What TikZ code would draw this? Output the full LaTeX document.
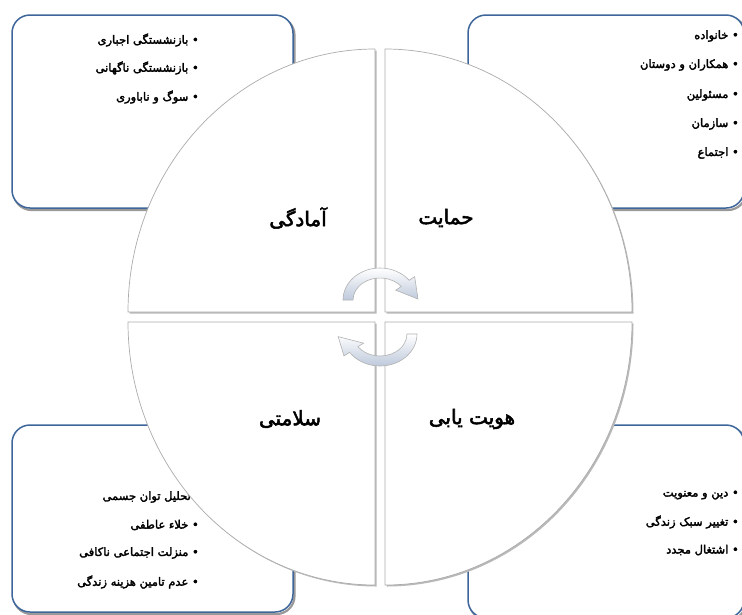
\documentclass[tikz,border=0pt]{standalone}
\usepackage{fontspec}
\newfontfamily\arabicbold[Script=Arabic,FakeBold=2.6]{DejaVu Sans}
\TeXXeTstate=1
\definecolor{boxblue}{RGB}{62,102,155}
\definecolor{arrowblue}{RGB}{190,201,219}
\begin{document}
\begin{tikzpicture}[x=1pt,y=-1pt]
\useasboundingbox (0,0) rectangle (742,614);
\tikzset{
 infobox/.style={draw=boxblue, line width=1.5pt, rounded corners=18pt, fill=white},
 boxshadow/.style={draw=black!40, line width=2.2pt, rounded corners=18pt},
 quad/.style={fill=white, draw=gray!65, line width=0.7pt},
 quadshadow/.style={fill=gray!55},
 item/.style={anchor=east, inner sep=0pt, font={\arabicbold\fontsize{11.5}{13}\selectfont}},
 qtitle/.style={inner sep=0pt, font={\arabicbold\fontsize{20}{23}\selectfont}},
 cyc/.style={top color=white, bottom color=arrowblue, draw=gray!60, line width=0.6pt}
}
% boxes
\draw[boxshadow] (13.5,17) rectangle (294.5,210);
\draw[infobox] (12,15) rectangle (293,208);
\draw[boxshadow] (469.5,17) rectangle (746,210);
\draw[infobox] (468,15) rectangle (744,208);
\draw[boxshadow] (13.5,427) rectangle (294.5,614);
\draw[infobox] (12,425) rectangle (293,612);
\draw[boxshadow] (469.5,427) rectangle (746,620);
\draw[infobox] (468,425) rectangle (744,618);

% box texts
\node[item] (tl1) at (199,40) {\beginR • بازنشستگی اجباری\endR};
\node[item] (tl2) at (199,68) {\beginR • بازنشستگی ناگهانی\endR};
\node[item] (tl3) at (199,97) {\beginR • سوگ و ناباوری\endR};

\node[item] (tr1) at (739,36) {\beginR • خانواده\endR};
\node[item] (tr2) at (739,65) {\beginR • همکاران و دوستان\endR};
\node[item] (tr3) at (739,95) {\beginR • مسئولین\endR};
\node[item] (tr4) at (739,124) {\beginR • سازمان\endR};
\node[item] (tr5) at (739,153) {\beginR • اجتماع\endR};

\node[item] (bl1) at (191,497) {\beginR تحلیل توان جسمی\endR};
\node[item] (bl2) at (199,525) {\beginR • خلاء عاطفی\endR};
\node[item] (bl3) at (199,553) {\beginR • منزلت اجتماعی ناکافی\endR};
\node[item] (bl4) at (199,582) {\beginR • عدم تامین هزینه زندگی\endR};

\node[item] (br1) at (739,495) {\beginR • دین و معنویت\endR};
\node[item] (br2) at (739,522) {\beginR • تغییر سبک زندگی\endR};
\node[item] (br3) at (739,550) {\beginR • اشتغال مجدد\endR};

% quadrant shadows
\path[quadshadow, shift={(1.5,1.5)}] (375,312) -- (128,312) arc[start angle=180,end angle=270,x radius=247,y radius=263] -- cycle;
\path[quadshadow, shift={(1.5,1.5)}] (385,312) -- (385,49) arc[start angle=270,end angle=360,x radius=247,y radius=263] -- cycle;
\path[quadshadow, shift={(1.5,1.5)}] (385,322) -- (632,322) arc[start angle=0,end angle=90,x radius=247,y radius=263] -- cycle;
\path[quadshadow, shift={(1.5,1.5)}] (375,322) -- (375,585) arc[start angle=90,end angle=180,x radius=247,y radius=263] -- cycle;
% quadrants
\path[quad] (375,312) -- (128,312) arc[start angle=180,end angle=270,x radius=247,y radius=263] -- cycle;
\path[quad] (385,312) -- (385,49) arc[start angle=270,end angle=360,x radius=247,y radius=263] -- cycle;
\path[quad] (385,322) -- (632,322) arc[start angle=0,end angle=90,x radius=247,y radius=263] -- cycle;
\path[quad] (375,322) -- (375,585) arc[start angle=90,end angle=180,x radius=247,y radius=263] -- cycle;

% quadrant titles
\node[qtitle] (qa) at (298,218) {\beginR آمادگی\endR};
\node[qtitle] (qb) at (446,218) {\beginR حمایت\endR};
\node[qtitle] (qc) at (290,419) {\beginR سلامتی\endR};
\node[qtitle] (qd) at (472,419) {\beginR هویت یابی\endR};

% cycle arrows
\begin{scope}[shift={(380,300)}]
\path[cyc] (180:37 and 32) arc[start angle=180,end angle=322,x radius=37,y radius=32]
  -- (322:44 and 38) -- (358:38 and 28) -- (322:20 and 16) -- (322:27 and 22)
  arc[start angle=322,end angle=180,x radius=27,y radius=22] -- cycle;
\end{scope}
\begin{scope}[shift={(380,334)}]
\path[cyc] (0:37 and 32) arc[start angle=0,end angle=145,x radius=37,y radius=32]
  -- (145:44 and 38) -- (175:42 and 30) -- (145:20 and 16) -- (145:27 and 22)
  arc[start angle=145,end angle=0,x radius=27,y radius=22] -- cycle;
\end{scope}
\end{tikzpicture}
\end{document}
